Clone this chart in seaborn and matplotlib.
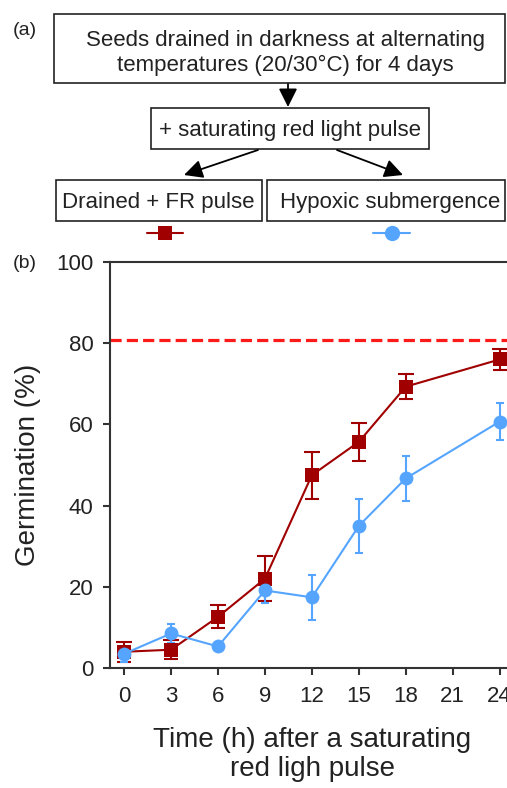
import numpy as np
import pandas as pd
import matplotlib
matplotlib.use("Agg")
import matplotlib.pyplot as plt
import seaborn as sns
from matplotlib.patches import Rectangle, FancyArrowPatch
from matplotlib.lines import Line2D

# Germination time course after a saturating red light pulse
hours = [0, 3, 6, 9, 12, 15, 18, 24]
fr_mean = [4.0, 4.5, 12.6, 22.0, 47.5, 55.7, 69.3, 76.0]
fr_err = [2.5, 2.4, 2.8, 5.6, 5.8, 4.7, 3.0, 2.6]
hyp_mean = [3.5, 8.5, 5.3, 19.1, 17.4, 35.0, 46.7, 60.7]
hyp_err = [2.0, 2.3, 0.5, 3.0, 5.5, 6.7, 5.5, 4.5]
max_germ = 80.8
xticks = [0, 3, 6, 9, 12, 15, 18, 21, 24]
yticks = [0, 20, 40, 60, 80, 100]

RED = "#A00000"
BLUE = "#55A5FF"
TXT = "#222222"

df = pd.DataFrame({
    "hours": hours * 2,
    "germ": fr_mean + hyp_mean,
    "err": fr_err + hyp_err,
    "treatment": ["Drained + FR pulse"] * len(hours) + ["Hypoxic submergence"] * len(hours),
})

sns.set_style("ticks")
plt.rcParams["font.family"] = ["Liberation Sans", "DejaVu Sans"]
plt.rcParams["text.color"] = TXT

W, H = 507, 788
fig = plt.figure(figsize=(W / 100, H / 100), dpi=100)

# ---------- (b) line chart ----------
left, right, top, bottom = 110, 531, 262, 668
ax = fig.add_axes([left / W, 1 - bottom / H, (right - left) / W, (bottom - top) / H])

ax.axhline(max_germ, color="#FF1A1A", lw=2.3, dashes=(3.5, 1.6), zorder=1)

styles = {"Drained + FR pulse": (RED, "s", 10), "Hypoxic submergence": (BLUE, "o", 11)}
for name, (c, m, ms) in styles.items():
    sub = df[df["treatment"] == name]
    ax.errorbar(sub["hours"], sub["germ"], yerr=sub["err"], fmt="none",
                ecolor=c, elinewidth=1.5, capsize=3, capthick=1.5, zorder=2)
sns.lineplot(data=df, x="hours", y="germ", hue="treatment", style="treatment",
             palette={k: v[0] for k, v in styles.items()},
             markers={k: v[1] for k, v in styles.items()}, dashes=False,
             linewidth=1.5, markersize=10, markeredgewidth=0, legend=False, ax=ax, zorder=3)
for line, (name, (c, m, ms)) in zip(ax.lines[1:], styles.items()):
    line.set_markersize(ms)

ax.set_xlim(-0.9, 26)
ax.set_ylim(0, 100)
ax.set_xticks(xticks)
ax.set_yticks(yticks)
ax.tick_params(axis="both", labelsize=16, length=5, width=1.5, color="#333333", labelcolor=TXT)
ax.tick_params(axis="y", pad=7)
ax.tick_params(axis="x", pad=8)
for s in ax.spines.values():
    s.set_color("#333333")
    s.set_linewidth(1.5)

ax.set_xlabel("Time (h) after a saturating\nred ligh pulse", fontsize=20, color=TXT, linespacing=1.15)
ax.xaxis.set_label_coords(0.48, -0.145)
ax.set_ylabel("Germination (%)", fontsize=20, color=TXT)
ax.yaxis.set_label_coords(-0.165, 0.5)

# ---------- (a) flow chart (overlay in pixel coordinates) ----------
ov = fig.add_axes([0, 0, 1, 1], facecolor="none")
ov.set_xlim(0, W)
ov.set_ylim(H, 0)
ov.axis("off")

boxes = [
    (54, 14, 505, 83),
    (151, 108, 429, 149),
    (56, 180, 262, 221),
    (267, 180, 505, 221),
]
for x0, y0, x1, y1 in boxes:
    ov.add_patch(Rectangle((x0, y0), x1 - x0, y1 - y0, fill=False, lw=1.2, ec=TXT))

fs = 16
ov.text(285, 40, "Seeds drained in darkness at alternating", ha="center", va="center", fontsize=fs)
ov.text(285, 65, "temperatures (20/30\u00b0C) for 4 days", ha="center", va="center", fontsize=fs)
ov.text(290, 130, "+ saturating red light pulse", ha="center", va="center", fontsize=fs)
ov.text(158, 202, "Drained + FR pulse", ha="center", va="center", fontsize=fs)
ov.text(390, 202, "Hypoxic submergence", ha="center", va="center", fontsize=fs)

for (xa, ya), (xb, yb) in [((288, 84), (288, 107)), ((258, 150), (184, 175)), ((337, 150), (403, 175))]:
    ov.add_patch(FancyArrowPatch((xa, ya), (xb, yb), arrowstyle="-|>,head_length=7,head_width=3.5",
                                 color="black", lw=1.3, mutation_scale=1.6, shrinkA=0, shrinkB=0))

ov.add_line(Line2D([147, 183], [233, 233], color=RED, lw=1.5))
ov.add_line(Line2D([165], [233], color=RED, marker="s", ms=10, mew=0))
ov.add_line(Line2D([373, 410], [233, 233], color=BLUE, lw=1.5))
ov.add_line(Line2D([392], [233], color=BLUE, marker="o", ms=11, mew=0))

ov.text(13, 30, "(a)", ha="left", va="center", fontsize=14)
ov.text(13, 264, "(b)", ha="left", va="center", fontsize=14)

fig.savefig("out.png", dpi=100)
